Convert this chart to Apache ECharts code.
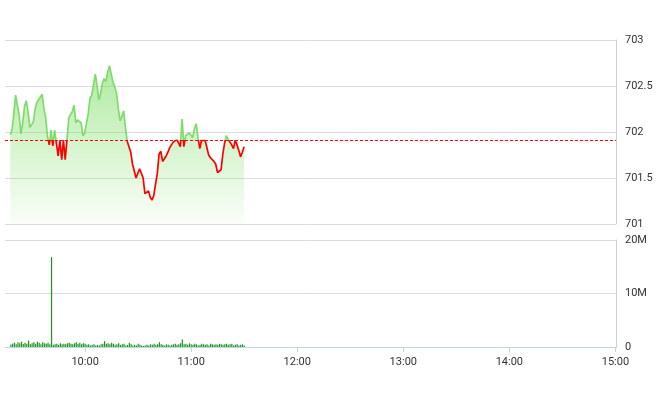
<!DOCTYPE html>
<html>
<head>
<meta charset="utf-8">
<script src="https://cdn.jsdelivr.net/npm/echarts@6/dist/echarts.min.js"></script>
<style>html,body{margin:0;padding:0;background:#fff}#c{width:660px;height:412px}</style>
</head>
<body>
<div id="c"></div>
<script>
// Session: 9:15 -> 15:00; data recorded each minute from 9:18 to 11:30
var axisStart = '09:15';
var axisEnd = '15:00';
var startTime = '09:18';
var prevClose = 701.91;
var prices = [
  701.97, 702.02, 702.20, 702.40, 702.38, 702.18, 701.98, 702.10, 702.28, 702.34,
  702.22, 702.05, 702.08, 702.11, 702.25, 702.32, 702.32, 702.38, 702.41, 702.25,
  702.15, 701.95, 701.86, 702.02, 701.85, 702.02, 702.02, 701.74, 701.91, 701.70,
  701.91, 701.70, 701.92, 702.15, 702.19, 702.22, 702.29, 702.10, 702.13, 702.13,
  702.10, 701.96, 701.99, 702.01, 702.20, 702.37, 702.40, 702.52, 702.63, 702.50,
  702.35, 702.42, 702.53, 702.58, 702.55, 702.65, 702.72, 702.70, 702.54, 702.49,
  702.42, 702.25, 702.12, 702.17, 702.23, 702.05, 701.90, 701.84, 701.78, 701.65,
  701.66, 701.50, 701.48, 701.60, 701.62, 701.50, 701.33, 701.32, 701.36, 701.29,
  701.26, 701.31, 701.32, 701.55, 701.76, 701.79, 701.68, 701.70, 701.74, 701.78,
  701.83, 701.86, 701.89, 701.88, 701.92, 701.93, 701.84, 702.14, 701.84, 701.96,
  701.97, 701.99, 701.98, 701.94, 702.04, 702.09, 701.93, 701.82, 701.91, 701.90,
  701.91, 701.90, 701.75, 701.72, 701.73, 701.68, 701.65, 701.56, 701.54, 701.59,
  701.76, 701.88, 701.96, 701.92, 701.91, 701.86, 701.82, 701.91, 701.86, 701.80,
  701.73, 701.78, 701.84
];
// volume in millions
var volumes = [
  0.45, 0.6, 0.8, 0.5, 0.9, 0.7, 1.0, 0.55, 0.8, 0.6,
  1.2, 0.5, 0.7, 0.9, 0.6, 1.0, 0.8, 0.5, 0.9, 0.7,
  0.6, 0.8, 0.5, 16.8, 0.4, 0.5, 0.6, 0.4, 0.7, 0.5,
  0.6, 0.5, 0.7, 0.8, 0.6, 0.5, 0.7, 0.9, 0.6, 0.8,
  0.5, 0.7, 0.6, 0.4, 0.5, 0.3, 0.4, 0.5, 0.3, 0.4,
  0.3, 0.5, 0.6, 1.1, 0.6, 0.7, 0.5, 0.8, 0.6, 0.4,
  0.5, 0.7, 0.4, 0.5, 0.6, 0.3, 0.4, 0.8, 0.5, 0.3,
  0.4, 0.3, 0.6, 0.4, 0.3, 0.2, 0.3, 0.4, 0.3, 0.5,
  0.4, 0.6, 0.4, 0.5, 0.9, 0.5, 0.4, 0.3, 0.5, 0.4,
  0.3, 0.4, 0.5, 0.6, 0.4, 0.5, 0.7, 1.4, 0.5, 0.6,
  0.4, 0.7, 0.5, 0.4, 0.6, 0.5, 0.3, 0.4, 0.6, 0.5,
  0.4, 0.5, 0.3, 0.6, 0.5, 0.4, 0.5, 0.4, 0.6, 0.5,
  0.4, 0.5, 0.6, 0.4, 0.5, 0.6, 0.3, 0.4, 0.5, 0.3,
  0.4, 0.5, 0.3
];

function ts(s, add) {
  var p = s.split(':');
  return new Date(2020, 0, 2, +p[0], (+p[1]) + (add || 0)).getTime();
}
var xMin = ts(axisStart), xMax = ts(axisEnd);
var priceData = prices.map(function (p, i) { return [ts(startTime, i), p]; });
var volData = volumes.map(function (v, i) { return [ts(startTime, i), v * 1e6]; });

var axisColor = '#c3d3e3';
var splitColor = '#dcdcdc';
var labelStyle = { color: '#333', fontSize: 11, fontFamily: 'Roboto, Arial, sans-serif' };
var HOUR = 3600 * 1000;

var chart = echarts.init(document.getElementById('c'), null, { renderer: 'canvas' });
chart.setOption({
  animation: false,
  grid: [
    { left: 5, right: 44, top: 40, height: 184 },
    { left: 5, right: 44, top: 240, height: 107 }
  ],
  xAxis: [
    { type: 'time', gridIndex: 0, min: xMin, max: xMax, minInterval: HOUR, maxInterval: HOUR, show: false, splitLine: { show: false } },
    {
      type: 'time', gridIndex: 1, min: xMin, max: xMax, minInterval: HOUR, maxInterval: HOUR,
      axisLine: { show: true, lineStyle: { color: axisColor } },
      axisTick: { show: true, length: 5, lineStyle: { color: axisColor } },
      axisLabel: Object.assign({
        margin: 10, showMinLabel: false, hideOverlap: false,
        formatter: function (v) {
          var d = new Date(v); var h = d.getHours(), m = d.getMinutes();
          return (h < 10 ? '0' : '') + h + ':' + (m < 10 ? '0' : '') + m;
        }
      }, labelStyle),
      minorTick: { show: false },
      splitLine: { show: false }
    }
  ],
  yAxis: [
    {
      type: 'value', gridIndex: 0, position: 'right', min: 701, max: 703, interval: 0.5,
      axisLine: { show: true, lineStyle: { color: axisColor } },
      axisTick: { show: false },
      axisLabel: Object.assign({ margin: 9 }, labelStyle),
      splitLine: { show: true, lineStyle: { color: splitColor } }
    },
    {
      type: 'value', gridIndex: 1, position: 'right', min: 0, max: 20e6, interval: 10e6,
      axisLine: { show: true, lineStyle: { color: axisColor } },
      axisTick: { show: false },
      axisLabel: Object.assign({ margin: 9, formatter: function (v) { return v === 0 ? '0' : (v / 1e6) + 'M'; } }, labelStyle),
      splitLine: { show: true, lineStyle: { color: splitColor } }
    }
  ],
  visualMap: [{
    show: false, type: 'piecewise', seriesIndex: 0, dimension: 1,
    pieces: [
      { min: 690, max: prevClose, color: '#ff0000' },
      { min: prevClose, max: 720, color: '#7fdc6c' }
    ]
  }],
  series: [
    {
      type: 'line', xAxisIndex: 0, yAxisIndex: 0, data: priceData,
      symbol: 'none', lineStyle: { width: 1.7 },
      areaStyle: {
        origin: 'start', opacity: 1,
        color: new echarts.graphic.LinearGradient(0, 0, 0, 1, [
          { offset: 0, color: 'rgba(125,222,100,0.62)' },
          { offset: 0.5, color: 'rgba(125,222,100,0.32)' },
          { offset: 1, color: 'rgba(125,222,100,0.04)' }
        ])
      },
      markLine: {
        silent: true, symbol: 'none', label: { show: false },
        lineStyle: { color: '#ff0000', type: [3, 2], width: 1.2 },
        data: [{ yAxis: prevClose }]
      }
    },
    {
      type: 'bar', xAxisIndex: 1, yAxisIndex: 1, data: volData,
      barWidth: 1.2, itemStyle: { color: '#1a961a' }
    }
  ]
});
</script>
</body>
</html>
